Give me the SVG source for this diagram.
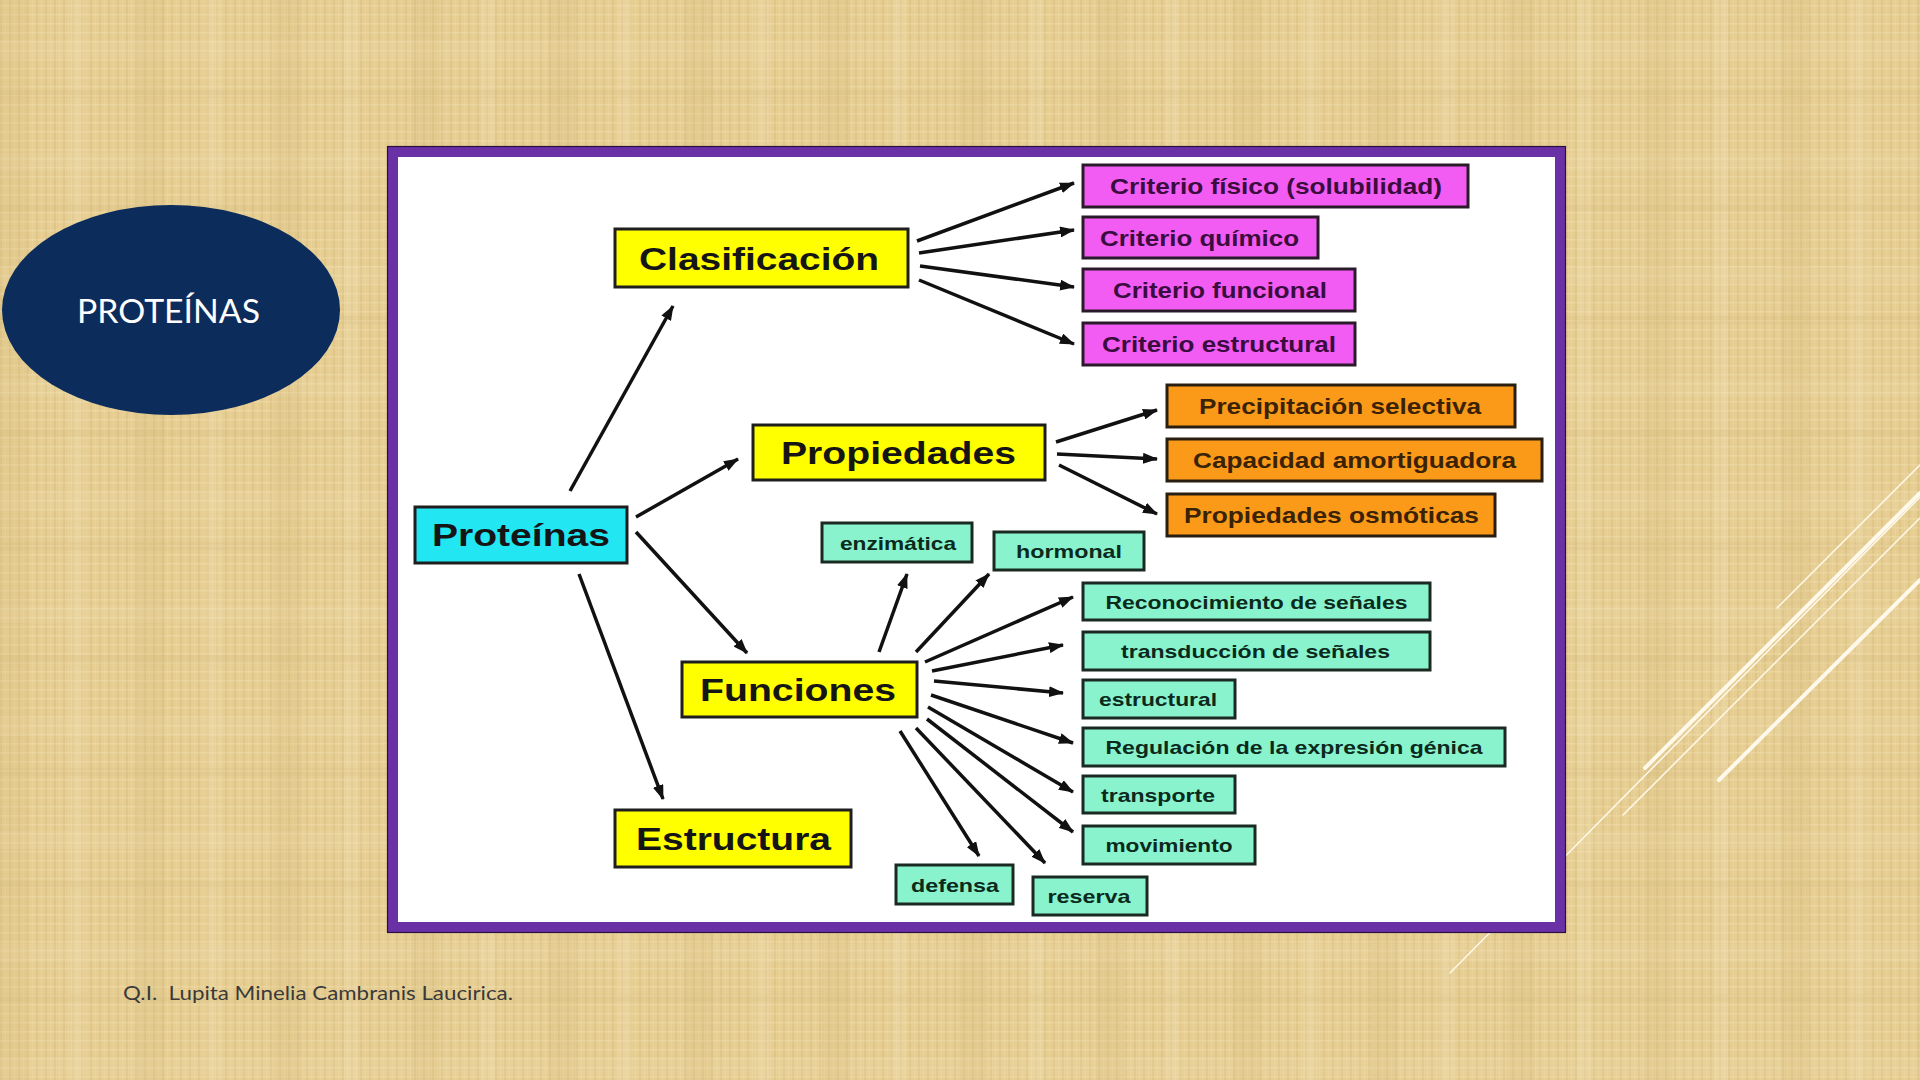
<svg xmlns="http://www.w3.org/2000/svg" width="1920" height="1080" viewBox="0 0 1920 1080">
  <defs>
    <pattern id="weave" width="9" height="9" patternUnits="userSpaceOnUse">
      <rect width="9" height="9" fill="#E6CE93"/>
      <rect x="0" y="0" width="2" height="9" fill="#D3B574" opacity="0.35"/>
      <rect x="0" y="5" width="9" height="1.5" fill="#F3E2B4" opacity="0.4"/>
      <rect x="5" y="0" width="1" height="9" fill="#F0DCA8" opacity="0.35"/>
    </pattern>
    <pattern id="bands" width="137" height="113" patternUnits="userSpaceOnUse">
      <rect x="0" y="0" width="28" height="113" fill="#C9AC6A" opacity="0.15"/>
      <rect x="70" y="0" width="14" height="113" fill="#F6E6BC" opacity="0.2"/>
      <rect x="0" y="40" width="137" height="18" fill="#F6E6BC" opacity="0.14"/>
      <rect x="0" y="90" width="137" height="8" fill="#C9AC6A" opacity="0.12"/>
    </pattern>
    <marker id="ah" markerUnits="userSpaceOnUse" markerWidth="15" markerHeight="11" refX="14" refY="5.5" orient="auto">
      <path d="M0,0 L15,5.5 L0,11 z" fill="#111"/>
    </marker>
    <style>
      .hdr { font-family: "Liberation Sans", Arial, sans-serif; font-weight: bold; font-size: 32px; fill: #151515; text-anchor: middle; }
      .sub { font-family: "Liberation Sans", Arial, sans-serif; font-weight: bold; font-size: 22px; text-anchor: middle; }
      .sm { font-family: "Liberation Sans", Arial, sans-serif; font-weight: bold; font-size: 19px; fill: #0C2A1C; text-anchor: middle; }
      .yel { fill: #FFFF00; stroke: #1E1E1E; stroke-width: 3; }
      .cyan { fill: #22E6F2; stroke: #1E1E1E; stroke-width: 3; }
      .mag { fill: #F25CF2; stroke: #2A1A2A; stroke-width: 3; }
      .org { fill: #FA9A18; stroke: #2A1E10; stroke-width: 3; }
      .grn { fill: #88F3CD; stroke: #1A2A22; stroke-width: 3; }
      .tmag { fill: #3A0D3E; }
      .torg { fill: #3A2206; }
      .conn line { stroke: #111; stroke-width: 3.5; marker-end: url(#ah); }
      .deco line { stroke: #FFF9EC; stroke-linecap: round; }
    </style>
  </defs>

  <!-- background -->
  <rect x="0" y="0" width="1920" height="1080" fill="url(#weave)"/>
  <rect x="0" y="0" width="1920" height="1080" fill="url(#bands)"/>

  <!-- decorative lines -->
  <g class="deco">
    <line x1="1450" y1="973" x2="1920" y2="497" stroke-width="1.5"/>
    <line x1="1623" y1="815" x2="1920" y2="518" stroke-width="1.5"/>
    <line x1="1777" y1="608" x2="1920" y2="465" stroke-width="1.5"/>
    <line x1="1645" y1="768" x2="1920" y2="493" stroke-width="4"/>
    <line x1="1719" y1="780" x2="1920" y2="580" stroke-width="4"/>
  </g>

  <!-- title ellipse -->
  <g id="title">
    <ellipse cx="171" cy="310" rx="169" ry="105" fill="#0C2C5C"/>
    <text x="77" y="323" font-family="Lato, 'Noto Sans', sans-serif" font-size="32" fill="#FFFFFF" textLength="183" lengthAdjust="spacingAndGlyphs">PROTEÍNAS</text>
  </g>

  <!-- footer -->
  <text id="footer" x="123" y="1000" xml:space="preserve" font-family="Lato, 'Noto Sans', sans-serif" font-size="19" fill="#3A3A3A" textLength="390" lengthAdjust="spacingAndGlyphs">Q.I.  Lupita Minelia Cambranis Laucirica.</text>

  <!-- frame -->
  <rect x="393" y="152" width="1167" height="775" fill="#FFFFFF" stroke="#6A30A6" stroke-width="10"/>
  <rect x="387.5" y="146.5" width="1178" height="786" fill="none" stroke="#2A1040" stroke-width="1.2"/>

  <!-- connectors -->
  <g class="conn" id="connectors">
    <line x1="570" y1="491" x2="673" y2="306"/>
    <line x1="636" y1="517" x2="738" y2="459"/>
    <line x1="636" y1="532" x2="747" y2="653"/>
    <line x1="579" y1="574" x2="663" y2="799"/>

    <line x1="917" y1="241" x2="1074" y2="183"/>
    <line x1="919" y1="253" x2="1074" y2="230"/>
    <line x1="920" y1="266" x2="1074" y2="287"/>
    <line x1="919" y1="280" x2="1074" y2="344"/>

    <line x1="1056" y1="442" x2="1157" y2="410"/>
    <line x1="1057" y1="454" x2="1157" y2="459"/>
    <line x1="1059" y1="465" x2="1157" y2="514"/>

    <line x1="879" y1="652" x2="907" y2="574"/>
    <line x1="916" y1="652" x2="989" y2="574"/>
    <line x1="925" y1="662" x2="1073" y2="597"/>
    <line x1="932" y1="671" x2="1063" y2="645"/>
    <line x1="934" y1="681" x2="1063" y2="693"/>
    <line x1="931" y1="695" x2="1073" y2="743"/>
    <line x1="928" y1="707" x2="1073" y2="792"/>
    <line x1="927" y1="719" x2="1073" y2="832"/>
    <line x1="916" y1="728" x2="1045" y2="863"/>
    <line x1="900" y1="731" x2="979" y2="856"/>
  </g>

  <!-- main nodes -->
  <g id="proteinas">
    <rect class="cyan" x="415" y="507" width="212" height="56"/>
    <text class="hdr" x="521" y="546" font-size="31" textLength="178" lengthAdjust="spacingAndGlyphs">Proteínas</text>
  </g>
  <g id="clasificacion">
    <rect class="yel" x="615" y="229" width="293" height="58"/>
    <text class="hdr" x="759" y="269.5" textLength="240" lengthAdjust="spacingAndGlyphs">Clasificación</text>
  </g>
  <g id="propiedades">
    <rect class="yel" x="753" y="425" width="292" height="55"/>
    <text class="hdr" x="898.5" y="464" textLength="235" lengthAdjust="spacingAndGlyphs">Propiedades</text>
  </g>
  <g id="funciones">
    <rect class="yel" x="682" y="662" width="235" height="55"/>
    <text class="hdr" x="798" y="701" textLength="196" lengthAdjust="spacingAndGlyphs">Funciones</text>
  </g>
  <g id="estructura">
    <rect class="yel" x="615" y="810" width="236" height="57"/>
    <text class="hdr" x="733.5" y="850" textLength="195" lengthAdjust="spacingAndGlyphs">Estructura</text>
  </g>

  <!-- clasificacion children -->
  <g id="c-fisico">
    <rect class="mag" x="1083" y="165" width="385" height="42"/>
    <text class="sub tmag" x="1276" y="194" textLength="332" lengthAdjust="spacingAndGlyphs">Criterio físico (solubilidad)</text>
  </g>
  <g id="c-quimico">
    <rect class="mag" x="1083" y="217" width="235" height="41"/>
    <text class="sub tmag" x="1199.5" y="245.5" textLength="199" lengthAdjust="spacingAndGlyphs">Criterio químico</text>
  </g>
  <g id="c-funcional">
    <rect class="mag" x="1083" y="269" width="272" height="42"/>
    <text class="sub tmag" x="1220" y="298" textLength="214" lengthAdjust="spacingAndGlyphs">Criterio funcional</text>
  </g>
  <g id="c-estructural">
    <rect class="mag" x="1083" y="323" width="272" height="42"/>
    <text class="sub tmag" x="1219" y="352" textLength="234" lengthAdjust="spacingAndGlyphs">Criterio estructural</text>
  </g>

  <!-- propiedades children -->
  <g id="p-precipitacion">
    <rect class="org" x="1167" y="385" width="348" height="42"/>
    <text class="sub torg" x="1340" y="414" textLength="282" lengthAdjust="spacingAndGlyphs">Precipitación selectiva</text>
  </g>
  <g id="p-capacidad">
    <rect class="org" x="1167" y="439" width="375" height="42"/>
    <text class="sub torg" x="1354.5" y="468" textLength="323" lengthAdjust="spacingAndGlyphs">Capacidad amortiguadora</text>
  </g>
  <g id="p-osmoticas">
    <rect class="org" x="1167" y="494" width="328" height="42"/>
    <text class="sub torg" x="1331.5" y="523" textLength="295" lengthAdjust="spacingAndGlyphs">Propiedades osmóticas</text>
  </g>

  <!-- funciones children -->
  <g id="f-enzimatica">
    <rect class="grn" x="822" y="523" width="150" height="39"/>
    <text class="sm" x="898" y="549.5" textLength="116" lengthAdjust="spacingAndGlyphs">enzimática</text>
  </g>
  <g id="f-hormonal">
    <rect class="grn" x="994" y="532" width="150" height="38"/>
    <text class="sm" x="1069" y="558" textLength="106" lengthAdjust="spacingAndGlyphs">hormonal</text>
  </g>
  <g id="f-reconocimiento">
    <rect class="grn" x="1083" y="583" width="347" height="37"/>
    <text class="sm" x="1256.5" y="608.5" textLength="302" lengthAdjust="spacingAndGlyphs">Reconocimiento de señales</text>
  </g>
  <g id="f-transduccion">
    <rect class="grn" x="1083" y="632" width="347" height="38"/>
    <text class="sm" x="1255.5" y="658" textLength="269" lengthAdjust="spacingAndGlyphs">transducción de señales</text>
  </g>
  <g id="f-estructural">
    <rect class="grn" x="1083" y="680" width="152" height="38"/>
    <text class="sm" x="1158" y="706" textLength="118" lengthAdjust="spacingAndGlyphs">estructural</text>
  </g>
  <g id="f-regulacion">
    <rect class="grn" x="1083" y="728" width="422" height="38"/>
    <text class="sm" x="1294" y="754" textLength="377" lengthAdjust="spacingAndGlyphs">Regulación de la expresión génica</text>
  </g>
  <g id="f-transporte">
    <rect class="grn" x="1083" y="776" width="152" height="37"/>
    <text class="sm" x="1158" y="801.5" textLength="114" lengthAdjust="spacingAndGlyphs">transporte</text>
  </g>
  <g id="f-movimiento">
    <rect class="grn" x="1083" y="826" width="172" height="38"/>
    <text class="sm" x="1169" y="852" textLength="127" lengthAdjust="spacingAndGlyphs">movimiento</text>
  </g>
  <g id="f-defensa">
    <rect class="grn" x="896" y="865" width="117" height="39"/>
    <text class="sm" x="955" y="891.5" textLength="88" lengthAdjust="spacingAndGlyphs">defensa</text>
  </g>
  <g id="f-reserva">
    <rect class="grn" x="1033" y="877" width="114" height="38"/>
    <text class="sm" x="1089" y="903" textLength="83" lengthAdjust="spacingAndGlyphs">reserva</text>
  </g>
</svg>
